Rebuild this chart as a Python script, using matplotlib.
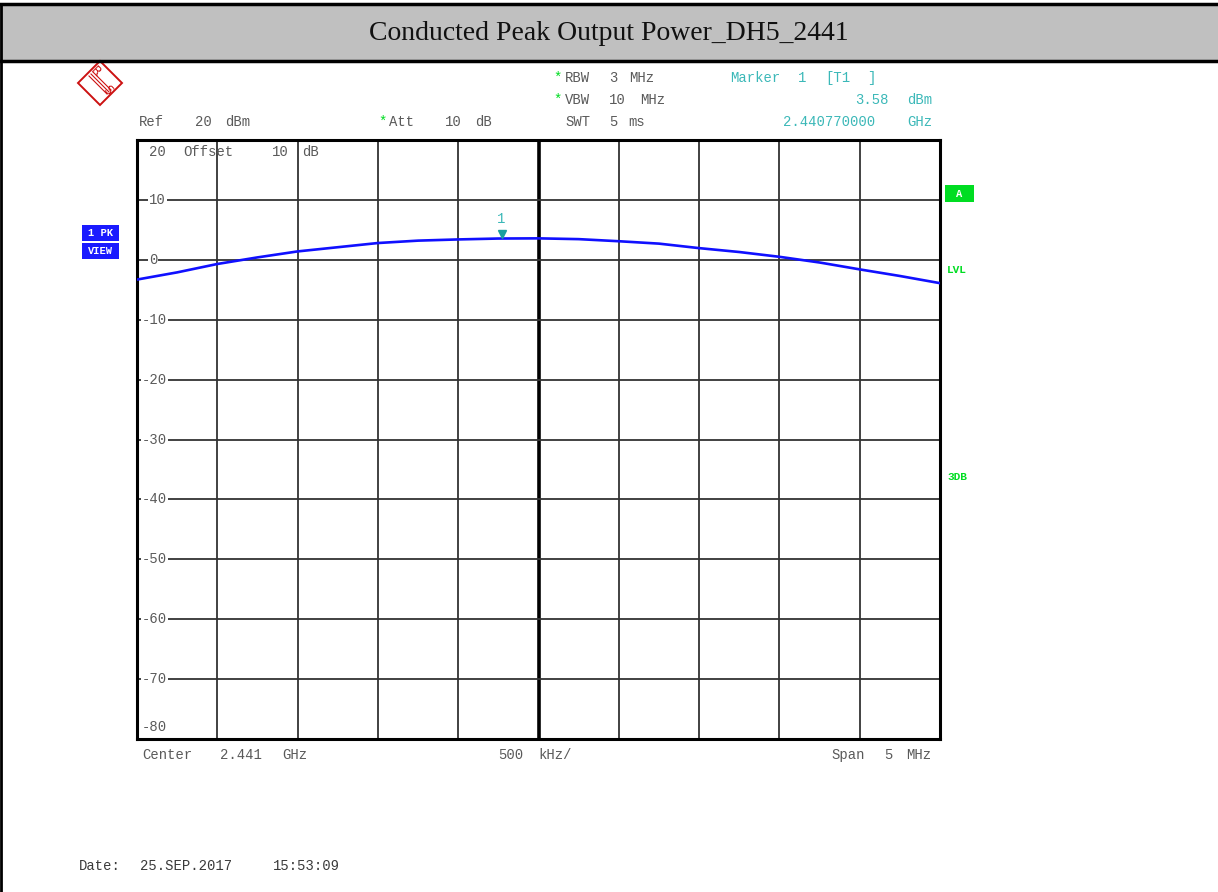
import numpy as np
import matplotlib.pyplot as plt
from matplotlib.patches import Rectangle, Polygon

# trace (frequency in MHz, level in dBm)
freq_mhz = [2438.50, 2438.75, 2439.00, 2439.25, 2439.50, 2439.75, 2440.00,
            2440.25, 2440.50, 2440.75, 2441.00, 2441.25, 2441.50, 2441.75,
            2442.00, 2442.25, 2442.50, 2442.75, 2443.00, 2443.25, 2443.50]
level_dbm = [-3.3, -2.1, -0.7, 0.4, 1.4, 2.1, 2.8,
             3.2, 3.4, 3.55, 3.58, 3.45, 3.1, 2.7,
             1.95, 1.3, 0.5, -0.45, -1.6, -2.7, -3.9]

marker_freq = 2440.77
marker_level = 3.58
y_ticks = [20, 10, 0, -10, -20, -30, -40, -50, -60, -70, -80]

W, H = 1218, 892
mono = 'Liberation Mono'
gray_txt = '#5a5a5a'
teal = '#3bb8b8'
green = '#00dd22'
fs = 10

fig = plt.figure(figsize=(W / 100, H / 100), dpi=100)


def fx(px):
    return px / W


def fy(py):
    return 1 - py / H


def words(y, items, color=gray_txt):
    # items: (left pixel, word)
    for x, s in items:
        fig.text(fx(x), fy(y), s, family=mono, fontsize=fs, color=color, va='center')


# title band
fig.patches.append(Rectangle((0, fy(61)), 1, fy(5) - fy(61), transform=fig.transFigure,
                             facecolor='#c0c0c0', edgecolor='none', zorder=0))
fig.add_artist(plt.Line2D([0, 1], [fy(4), fy(4)], color='black', lw=2.5))
fig.add_artist(plt.Line2D([0, 1], [fy(61), fy(61)], color='black', lw=2.5))
fig.add_artist(plt.Line2D([fx(1), fx(1)], [0, fy(4)], color='black', lw=2))
fig.text(0.5, fy(33), 'Conducted Peak Output Power_DH5_2441', ha='center', va='center',
         fontsize=20, family='Liberation Serif', color='#111111')

# R&S logo
cx, cy, r = 100, 83, 22
red = '#cc1111'
diamond = [(fx(cx - r), fy(cy)), (fx(cx), fy(cy - r)), (fx(cx + r), fy(cy)), (fx(cx), fy(cy + r))]
fig.add_artist(Polygon(diamond, closed=True, transform=fig.transFigure, fill=False,
                       edgecolor=red, lw=1.4))
for d in (-2, 0, 2):
    fig.add_artist(plt.Line2D([fx(cx - 9 + d), fx(cx + 9 + d)], [fy(cy - 9 - d), fy(cy + 9 - d)],
                              color=red, lw=0.8))
fig.text(fx(cx - 5), fy(cy - 11), 'R', color=red, fontsize=9, ha='center', va='center',
         family='DejaVu Sans', rotation=-45)
fig.text(fx(cx + 7), fy(cy + 7), 'S', color=red, fontsize=9, ha='center', va='center',
         family='DejaVu Sans', rotation=-45)

# header texts
words(122, [(139, 'Ref'), (195, '20'), (225, 'dBm')])
words(122, [(378, '*')], green)
words(122, [(389, 'Att'), (445, '10'), (475, 'dB')])
words(78, [(553, '*')], green)
words(78, [(565, 'RBW'), (609, '3'), (629, 'MHz')])
words(100, [(553, '*')], green)
words(100, [(565, 'VBW'), (609, '10'), (640, 'MHz')])
words(122, [(565, 'SWT'), (609, '5'), (628, 'ms')])
words(78, [(730, 'Marker'), (798, '1'), (825, '[T1'), (867, ']')], teal)
words(100, [(855, '%.2f' % marker_level), (907, 'dBm')], teal)
words(122, [(783, '%.9f' % (marker_freq / 1000)), (907, 'GHz')], teal)

# bottom texts
words(755, [(142, 'Center'), (220, '2.441'), (282, 'GHz')])
words(755, [(498, '500'), (538, 'kHz/')])
words(755, [(831, 'Span'), (884, '5'), (906, 'MHz')])
words(866, [(79, 'Date:'), (140, '25.SEP.2017'), (273, '15:53:09')], '#3a3a3a')

# side labels
for top, label in ((225, '1 PK'), (243, 'VIEW')):
    fig.patches.append(Rectangle((fx(82), fy(top + 16)), fx(37), fy(0) - fy(16),
                                 transform=fig.transFigure, facecolor='#1a1aff',
                                 edgecolor='none'))
    fig.text(fx(100), fy(top + 8), label, family=mono, fontsize=7.5, color='white',
             ha='center', va='center', fontweight='bold')
fig.patches.append(Rectangle((fx(945), fy(202)), fx(29), fy(0) - fy(17),
                             transform=fig.transFigure, facecolor=green, edgecolor='none'))
fig.text(fx(959.5), fy(194), 'A', family=mono, fontsize=7.5, color='white', ha='center',
         va='center', fontweight='bold')
fig.text(fx(947), fy(270), 'LVL', family=mono, fontsize=8, color=green, va='center', fontweight='bold')
fig.text(fx(947), fy(477), '3DB', family=mono, fontsize=8, color=green, va='center', fontweight='bold')

# spectrum plot
ax = fig.add_axes([fx(137), fy(739), fx(940) - fx(137), fy(140) - fy(739)])
ax.set_xlim(2438.5, 2443.5)
ax.set_ylim(-80, 20)
for v in np.arange(2438.5, 2443.51, 0.5):
    ax.axvline(v, color='#333333', lw=1.3, zorder=1)
ax.axvline(2441.0, color='black', lw=2.6, zorder=1)
for v in y_ticks:
    ax.axhline(v, color='#333333', lw=1.3, zorder=1)
ax.set_xticks([])
ax.set_yticks([])
for s in ax.spines.values():
    s.set_linewidth(2.2)
    s.set_color('black')

# y labels drawn inside the grid
x_lab = 2438.5 + 5.0 * (142 - 137) / 803
x_pos = 2438.5 + 5.0 * (149 - 137) / 803
for v in y_ticks:
    yy = v
    if v == 20:
        yy = 18
    elif v == -80:
        yy = -78
    xx = x_lab if v < 0 else x_pos
    txt = ax.text(xx, yy, '%d' % v, family=mono, fontsize=fs, color=gray_txt,
                  va='center', ha='left', zorder=2)
    if v not in (20, -80):
        txt.set_bbox(dict(facecolor='white', edgecolor='none', pad=0.6))
for px, s in ((183, 'Offset'), (272, '10'), (302, 'dB')):
    ax.text(2438.5 + 5.0 * (px - 137) / 803, 18, s, family=mono, fontsize=fs,
            color=gray_txt, va='center', ha='left', zorder=2)

ax.plot(freq_mhz, level_dbm, color='#1010ff', lw=1.9, zorder=3)

# marker
ax.plot([marker_freq], [marker_level + 0.8], marker='v', color='#1aa0a0', markersize=6, zorder=4)
ax.text(marker_freq, marker_level + 3.3, '1', family=mono, fontsize=fs, color=teal,
        ha='center', va='center', zorder=4)

fig.savefig('out.png', dpi=100)
